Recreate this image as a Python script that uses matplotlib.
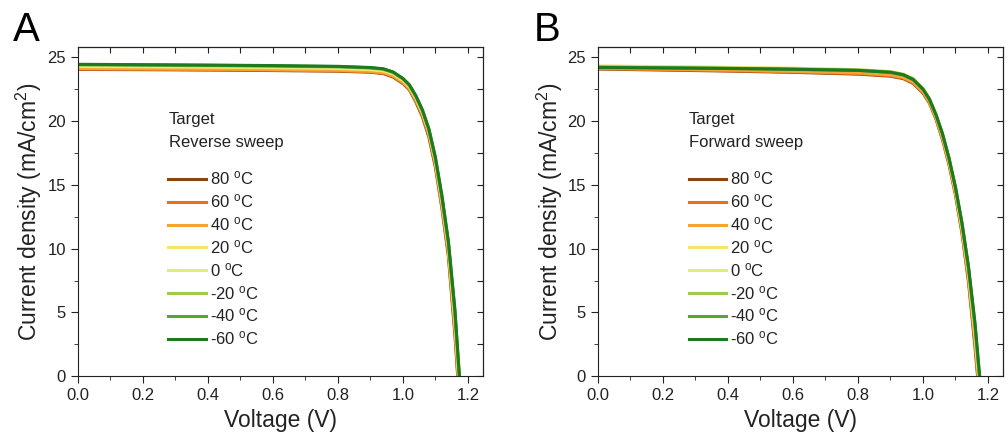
import matplotlib
matplotlib.use('Agg')
import matplotlib.pyplot as plt
from matplotlib.ticker import MultipleLocator

plt.rcParams['font.family'] = ['Liberation Sans', 'DejaVu Sans']
plt.rcParams['mathtext.default'] = 'regular'

# voltage grid (V)
voltage = [0.0, 0.2, 0.4, 0.6, 0.8, 0.9, 0.94, 0.97, 1.0, 1.02, 1.04, 1.06,
           1.08, 1.10, 1.12, 1.14, 1.16, 1.18]

temps = ['80', '60', '40', '20', '0', '-20', '-40', '-60']
colors = ['#8B4513', '#E8701A', '#F5A431', '#F8E46A', '#E2EC7C', '#9CCB52',
          '#55A637', '#1F7A1F']

# Panel A: reverse sweep, current density (mA/cm2)
rev_80 = [24.05, 24.03, 24.0, 23.96, 23.91, 23.83, 23.72, 23.45, 22.95, 22.45, 21.5, 20.35, 18.75, 16.4, 13.2, 9.4, 3.3, -4.3]
rev_60 = [24.08, 24.06, 24.03, 23.99, 23.94, 23.86, 23.75, 23.5, 23.0, 22.5, 21.6, 20.45, 18.9, 16.55, 13.35, 9.6, 3.6, -3.9]
rev_40 = [24.12, 24.1, 24.07, 24.03, 23.98, 23.9, 23.8, 23.55, 23.05, 22.55, 21.65, 20.55, 19.0, 16.7, 13.5, 9.8, 3.9, -3.6]
rev_20 = [24.28, 24.25, 24.22, 24.18, 24.12, 24.03, 23.93, 23.7, 23.2, 22.7, 21.8, 20.7, 19.2, 16.9, 13.8, 10.1, 4.4, -3.1]
rev_0 = [24.35, 24.32, 24.29, 24.25, 24.19, 24.1, 24.0, 23.75, 23.25, 22.75, 21.85, 20.75, 19.25, 16.95, 13.9, 10.3, 4.7, -2.8]
rev_m20 = [24.4, 24.37, 24.34, 24.3, 24.24, 24.15, 24.05, 23.8, 23.3, 22.8, 21.9, 20.8, 19.3, 17.0, 14.0, 10.4, 4.9, -2.6]
rev_m40 = [24.43, 24.4, 24.37, 24.33, 24.27, 24.18, 24.08, 23.83, 23.33, 22.82, 21.95, 20.85, 19.35, 17.1, 14.1, 10.5, 5.1, -2.4]
rev_m60 = [24.45, 24.42, 24.39, 24.35, 24.29, 24.2, 24.1, 23.85, 23.35, 22.85, 22.0, 20.9, 19.4, 17.2, 14.2, 10.6, 5.3, -2.2]

# Panel B: forward sweep
fwd_80 = [24.08, 24.0, 23.92, 23.82, 23.68, 23.52, 23.32, 22.95, 22.2, 21.4, 20.15, 18.55, 16.6, 14.2, 11.2, 7.4, 2.3, -3.5]
fwd_60 = [24.1, 24.03, 23.95, 23.85, 23.72, 23.56, 23.36, 23.0, 22.25, 21.45, 20.2, 18.6, 16.65, 14.3, 11.3, 7.6, 2.6, -3.2]
fwd_40 = [24.15, 24.08, 24.0, 23.9, 23.78, 23.62, 23.42, 23.05, 22.3, 21.5, 20.25, 18.7, 16.75, 14.4, 11.45, 7.8, 2.9, -2.9]
fwd_20 = [24.32, 24.27, 24.21, 24.14, 24.03, 23.87, 23.66, 23.3, 22.5, 21.7, 20.45, 18.9, 16.95, 14.6, 11.7, 8.1, 3.3, -2.5]
fwd_0 = [24.3, 24.25, 24.2, 24.13, 24.03, 23.88, 23.68, 23.32, 22.55, 21.75, 20.5, 18.95, 17.0, 14.7, 11.8, 8.3, 3.6, -2.2]
fwd_m20 = [24.25, 24.2, 24.15, 24.09, 24.0, 23.85, 23.65, 23.3, 22.55, 21.75, 20.5, 19.0, 17.05, 14.75, 11.9, 8.4, 3.8, -2.0]
fwd_m40 = [24.22, 24.18, 24.13, 24.07, 23.98, 23.83, 23.63, 23.27, 22.5, 21.7, 20.5, 19.0, 17.1, 14.8, 12.0, 8.5, 4.0, -1.8]
fwd_m60 = [24.2, 24.16, 24.12, 24.06, 23.97, 23.82, 23.62, 23.25, 22.5, 21.7, 20.5, 19.0, 17.1, 14.8, 12.0, 8.6, 4.2, -1.6]

reverse = [rev_80, rev_60, rev_40, rev_20, rev_0, rev_m20, rev_m40, rev_m60]
forward = [fwd_80, fwd_60, fwd_40, fwd_20, fwd_0, fwd_m20, fwd_m40, fwd_m60]

fig = plt.figure(figsize=(10.08, 4.4), dpi=100)
ax1 = fig.add_axes([0.077, 0.145, 0.402, 0.748])
ax2 = fig.add_axes([0.593, 0.145, 0.402, 0.748])

txt = '#222222'

def draw(ax, data, title):
    for J, c, t in zip(data, colors, temps):
        ax.plot(voltage, J, color=c, lw=2.2, label=t + r' $^{o}$C')
    ax.set_xlim(0, 1.246)
    ax.set_ylim(0, 25.8)
    ax.xaxis.set_major_locator(MultipleLocator(0.2))
    ax.xaxis.set_minor_locator(MultipleLocator(0.1))
    ax.yaxis.set_major_locator(MultipleLocator(5))
    ax.yaxis.set_minor_locator(MultipleLocator(2.5))
    ax.tick_params(which='both', direction='out', labelsize=12, colors=txt)
    ax.tick_params(which='major', length=5)
    ax.tick_params(which='minor', length=3)
    for s in ax.spines.values():
        s.set_color(txt)
    # inward ticks on top and right
    top = ax.secondary_xaxis('top')
    top.xaxis.set_major_locator(MultipleLocator(0.1))
    top.tick_params(direction='in', length=4, labeltop=False, colors=txt)
    right = ax.secondary_yaxis('right')
    right.yaxis.set_major_locator(MultipleLocator(2.5))
    right.tick_params(direction='in', length=4, labelright=False, colors=txt)
    ax.set_xlabel('Voltage (V)', fontsize=16.5, color=txt, labelpad=4)
    ax.set_ylabel('Current density (mA/cm$^2$)', fontsize=16.5, color=txt, labelpad=2)
    ax.text(0.225, 0.781, 'Target', transform=ax.transAxes, fontsize=12,
            va='center', ha='left', color=txt)
    ax.text(0.225, 0.711, title, transform=ax.transAxes, fontsize=12,
            va='center', ha='left', color=txt)
    leg = ax.legend(loc='upper left', bbox_to_anchor=(0.187, 0.673),
                    frameon=False, fontsize=12, handlelength=2.25,
                    handletextpad=0.25, labelspacing=0.29)
    for t in leg.get_texts():
        t.set_color(txt)

draw(ax1, reverse, 'Reverse sweep')
draw(ax2, forward, 'Forward sweep')

fig.text(0.013, 0.975, 'A', fontsize=29, va='top', ha='left', color='black')
fig.text(0.530, 0.975, 'B', fontsize=29, va='top', ha='left', color='black')

fig.savefig('out.png', dpi=100)
